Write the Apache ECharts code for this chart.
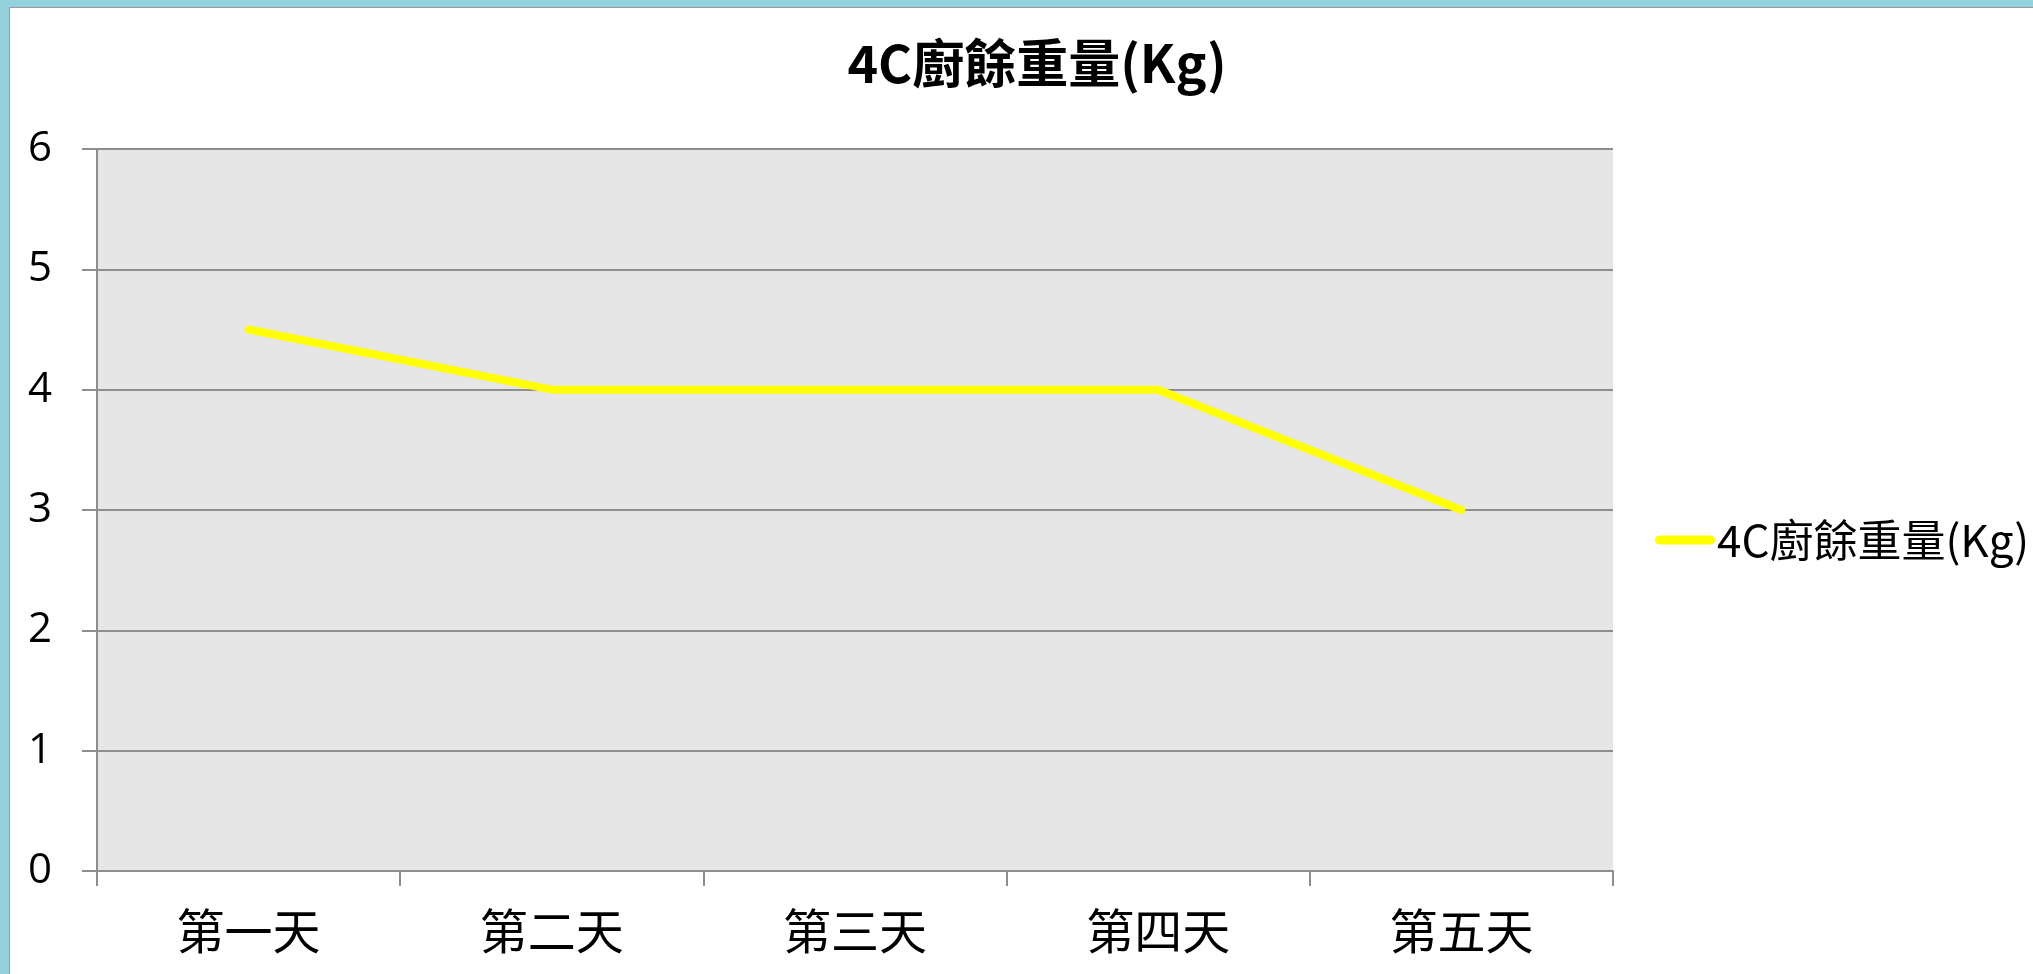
<!DOCTYPE html>
<html>
<head>
<meta charset="utf-8">
<title>4C廚餘重量(Kg)</title>
<script src="https://cdn.jsdelivr.net/npm/echarts@6/dist/echarts.min.js"></script>
<style>
    html, body {
        margin: 0;
        padding: 0;
        background: #fff;
    }
    #frame {
        position: absolute;
        left: 0;
        top: 0;
        width: 2033px;
        height: 974px;
        box-sizing: border-box;
        border-left: 9px solid #93D1DC;
        border-top: 7px solid #93D1DC;
    }
    #frame div {
        width: 100%;
        height: 100%;
        box-sizing: border-box;
        border-left: 1px solid #999;
        border-top: 1px solid #999;
    }
    #main {
        position: absolute;
        left: 0;
        top: 0;
        width: 2033px;
        height: 974px;
    }
</style>
</head>
<body>
<div id="frame"><div></div></div>
<div id="main"></div>
<script>
    var titleText = '4C廚餘重量(Kg)';
    var days = ['第一天', '第二天', '第三天', '第四天', '第五天'];
    var weight = [4.5, 4, 4, 4, 3];
    var yTicks = [0, 1, 2, 3, 4, 5, 6];

    var cjk = '"Noto Sans CJK TC", "Noto Sans", sans-serif';
    var gridColor = '#8e8e8e';

    var myChart = echarts.init(document.getElementById('main'));
    var option = {
        animation: false,
        title: {
            text: titleText,
            left: 1032,
            top: 32,
            textAlign: 'center',
            textStyle: {
                fontFamily: cjk,
                fontSize: 52,
                fontWeight: 'bold',
                color: '#000'
            }
        },
        legend: {
            data: [titleText],
            left: 1650,
            top: 513,
            orient: 'vertical',
            itemWidth: 60,
            itemHeight: 14,
            itemGap: 0,
            icon: 'path://M4.5,5 L55.5,5 A4.5,4.5 0 0 1 55.5,14 L4.5,14 A4.5,4.5 0 0 1 4.5,5 Z',
            textStyle: {
                fontFamily: cjk,
                fontSize: 44,
                color: '#000',
                padding: [0, 0, 0, -3]
            }
        },
        grid: {
            left: 97,
            right: 420,
            top: 149,
            bottom: 103,
            show: true,
            backgroundColor: '#E6E6E6',
            borderWidth: 0
        },
        xAxis: {
            type: 'category',
            data: days,
            boundaryGap: true,
            axisLine: {
                lineStyle: {
                    color: gridColor,
                    width: 2
                }
            },
            axisTick: {
                show: true,
                length: 15,
                interval: 0,
                lineStyle: {
                    color: gridColor,
                    width: 2
                }
            },
            axisLabel: {
                margin: 36,
                interval: 0,
                fontFamily: cjk,
                fontSize: 48,
                color: '#000'
            }
        },
        yAxis: {
            type: 'value',
            min: yTicks[0],
            max: yTicks[yTicks.length - 1],
            interval: 1,
            axisLine: {
                show: true,
                lineStyle: {
                    color: gridColor,
                    width: 2
                }
            },
            axisTick: {
                show: true,
                length: 15,
                lineStyle: {
                    color: gridColor,
                    width: 2
                }
            },
            axisLabel: {
                margin: 45,
                fontFamily: '"Open Sans", "Noto Sans", sans-serif',
                fontSize: 42,
                color: '#000'
            },
            splitLine: {
                show: true,
                lineStyle: {
                    color: gridColor,
                    width: 2
                }
            }
        },
        series: [{
            name: titleText,
            type: 'line',
            data: weight,
            symbol: 'none',
            itemStyle: {
                color: '#FFFF00'
            },
            lineStyle: {
                color: '#FFFF00',
                width: 8,
                cap: 'round'
            }
        }]
    };
    myChart.setOption(option);
</script>
</body>
</html>
